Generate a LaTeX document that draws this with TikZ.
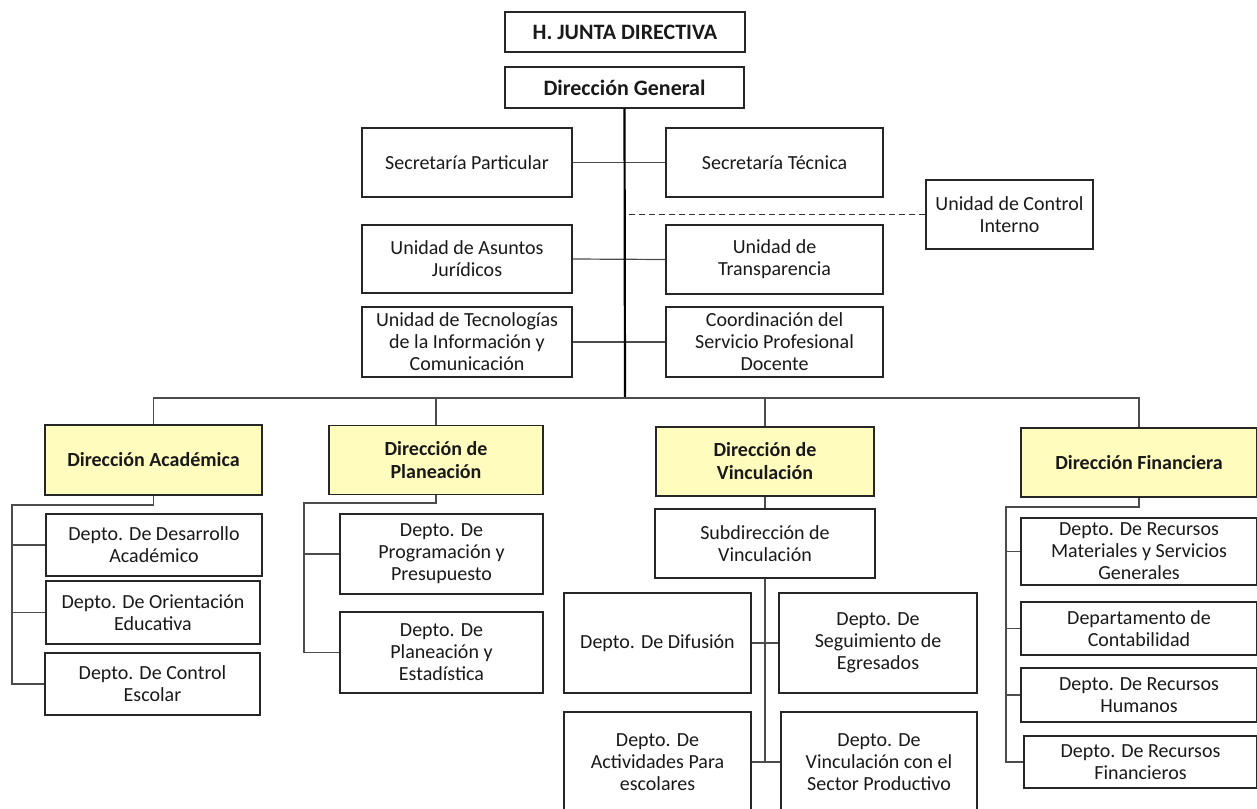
\documentclass[tikz,border=0pt]{standalone}
\usepackage{fontspec}
\setmainfont{Carlito}
\definecolor{dirfill}{RGB}{255,252,190}
\tikzset{
  unit/.style = {draw = black!85, line width = 1.2pt, align = center, inner sep = 0pt,
    font = \fontsize{20}{22}\selectfont, text = black!90},
  boss/.style = {unit, font = \fontsize{22}{24}\selectfont\bfseries},
  head/.style = {unit, fill = dirfill, font = \fontsize{20}{23}\selectfont\bfseries},
  link/.style = {draw = black!70, line width = 1.2pt},
  trunk/.style = {draw = black, line width = 2.2pt}
}

\begin{document}
\begin{tikzpicture}[x = 1pt, y = -1pt]
\useasboundingbox (0, 0) rectangle (1257, 808);
\clip (0, 0) rectangle (1257, 808);
\node (jd) [boss, minimum width = 240pt, minimum height = 40pt] at (625, 32) {H. JUNTA DIRECTIVA};
\node (dg) [boss, minimum width = 239pt, minimum height = 41pt] at (624.5, 87.5) {Dirección General};
\node (sp) [unit, minimum width = 210pt, minimum height = 69pt] at (467, 162.5) {Secretaría Particular};
\node (st) [unit, minimum width = 217pt, minimum height = 69pt] at (774.5, 162.5) {Secretaría Técnica};
\node (ci) [unit, minimum width = 167pt, minimum height = 69pt] at (1009.5, 214.5) {Unidad de Control\\Interno};
\node (uaj) [unit, minimum width = 210pt, minimum height = 68pt] at (467, 259) {Unidad de Asuntos\\Jurídicos};
\node (ut) [unit, minimum width = 217pt, minimum height = 69pt] at (774.5, 259.5) {Unidad de\\Transparencia};
\node (uti) [unit, minimum width = 210pt, minimum height = 70pt] at (467, 342) {Unidad de Tecnologías\\de la Información y\\Comunicación};
\node (csp) [unit, minimum width = 217pt, minimum height = 70pt] at (774.5, 342) {Coordinación del\\Servicio Profesional\\Docente};
\coordinate (bus) at (625, 398);

% direcciones
\node (da) [head, minimum width = 217pt, minimum height = 70pt] at (153.5, 460) {Dirección Académica};
\node (dp) [head, minimum width = 214pt, minimum height = 69pt] at (436, 460) {Dirección de\\Planeación};
\node (dv) [head, minimum width = 218pt, minimum height = 69pt] at (765, 461.5) {Dirección de\\Vinculación};
\node (df) [head, minimum width = 236pt, minimum height = 69pt] at (1139, 462.5) {Dirección Financiera};

\node (dad) [unit, minimum width = 216pt, minimum height = 62pt] at (154, 545) {Depto. De Desarrollo\\Académico};
\node (doe) [unit, minimum width = 214pt, minimum height = 63pt] at (153, 612.5) {Depto. De Orientación\\Educativa};
\node (dce) [unit, minimum width = 215pt, minimum height = 62pt] at (152.5, 684) {Depto. De Control\\Escolar};
\coordinate (daspine) at (12, 505);

\node (dpp) [unit, minimum width = 203pt, minimum height = 80pt] at (441.5, 554) {Depto. De\\Programación y\\Presupuesto};
\node (dpe) [unit, minimum width = 203pt, minimum height = 81pt] at (441.5, 652.5) {Depto. De\\Planeación y\\Estadística};
\coordinate (dpspine) at (304, 503);

\node (sv) [unit, minimum width = 220pt, minimum height = 69pt] at (765, 543.5) {Subdirección de\\Vinculación};
\node (ddi) [unit, minimum width = 187pt, minimum height = 100pt] at (657.5, 643) {Depto. De Difusión};
\node (dse) [unit, minimum width = 198pt, minimum height = 100pt] at (878, 643) {Depto. De\\Seguimiento de\\Egresados};
\node (dap) [unit, minimum width = 187pt, minimum height = 100pt] at (657.5, 762) {Depto. De\\Actividades Para\\escolares};
\node (dvs) [unit, minimum width = 196pt, minimum height = 100pt] at (879, 762) {Depto. De\\Vinculación con el\\Sector Productivo};
\coordinate (svend) at (765, 762);

\node (drm) [unit, minimum width = 236pt, minimum height = 67pt] at (1139, 551.5) {Depto. De Recursos\\Materiales y Servicios\\Generales};
\node (dco) [unit, minimum width = 236pt, minimum height = 53pt] at (1139, 628.5) {Departamento de\\Contabilidad};
\node (drh) [unit, minimum width = 236pt, minimum height = 54pt] at (1139, 695) {Depto. De Recursos\\Humanos};
\node (drf) [unit, minimum width = 233pt, minimum height = 52pt] at (1140.5, 762) {Depto. De Recursos\\Financieros};
\coordinate (dfspine) at (1006, 507);

% lineas
\draw[link] (sp.east) -- (st.west);
\draw[link] (uaj.east) -- (ut.west);
\draw[link] (uti.east) -- (csp.west);
\draw[dashed, dash pattern = on 6pt off 4pt, line width = 1.2pt, black!80] (ci.west) -- (ci.west -| bus);
\draw[trunk] (dg.south) -- (bus);
\draw[link] (bus) -| (da.north);
\draw[link] (bus) -| (dp.north);
\draw[link] (bus) -| (dv.north);
\draw[link] (bus) -| (df.north);

\draw[link] (da.south) |- (daspine) |- (dce.west);
\draw[link] (daspine) |- (dad.west);
\draw[link] (daspine) |- (doe.west);

\draw[link] (dp.south) |- (dpspine) |- (dpe.west);
\draw[link] (dpspine) |- (dpp.west);

\draw[link] (dv.south) -- (sv.north);
\draw[link] (sv.south) -- (svend);
\draw[link] (ddi.east) -- (dse.west);
\draw[link] (dap.east) -- (dvs.west);

\draw[link] (df.south) |- (dfspine) |- (drf.west);
\draw[link] (dfspine) |- (drm.west);
\draw[link] (dfspine) |- (dco.west);
\draw[link] (dfspine) |- (drh.west);
\end{tikzpicture}
\end{document}
